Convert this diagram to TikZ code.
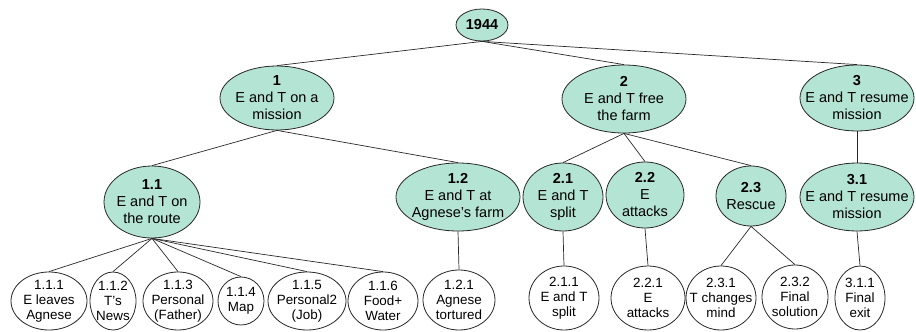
\documentclass[tikz,border=0pt]{standalone}
\usepackage{fontspec}
\setmainfont{Liberation Sans}
\usetikzlibrary{shapes.geometric}
\definecolor{mint}{RGB}{180,228,211}
\definecolor{edgec}{RGB}{40,40,40}
\tikzset{
  base/.style={ellipse, draw=edgec, line width=0.8pt, inner sep=0pt},
  topic/.style={base, fill=mint},
  leaf/.style={base, fill=white},
  ttext/.style={align=center, inner sep=0pt, font=\fontsize{14.5}{17}\selectfont},
  ltext/.style={align=center, inner sep=0pt, font=\fontsize{13.4}{15}\selectfont},
  sz/.style 2 args={minimum width=#1pt, minimum height=#2pt},
  tl/.style={label={[ttext]center:{#1}}},
  ll/.style={label={[ltext]center:{#1}}},
  link/.style={draw=edgec, line width=0.7pt}
}
\begin{document}
\begin{tikzpicture}[x=1pt,y=-1pt]
\useasboundingbox (0,0) rectangle (916,332);
% level 0
\node[topic, sz={52}{32}, tl={\textbf{1944}}] (r) at (482,25) {};
% level 1
\node[topic, sz={114}{64}, tl={\textbf{1}\\E and T on a\\mission}] (n1) at (277,98) {};
\node[topic, sz={124}{68}, tl={\textbf{2}\\E and T free\\the farm}] (n2) at (624,99) {};
\node[topic, sz={114}{66}, tl={\textbf{3}\\E and T resume\\mission}] (n3) at (857,98) {};
% level 2
\node[topic, sz={96}{72}, tl={\textbf{1.1}\\E and T on\\the route}] (n11) at (152,202) {};
\node[topic, sz={124}{68}, tl={\textbf{1.2}\\E and T at\\Agnese's farm}] (n12) at (458,197) {};
\node[topic, sz={80}{68}, tl={\textbf{2.1}\\E and T\\split}] (n21) at (563,197) {};
\node[topic, sz={78}{66}, tl={\textbf{2.2}\\E\\attacks}] (n22) at (645,195) {};
\node[topic, sz={70}{60}, tl={\textbf{2.3}\\Rescue}] (n23) at (751,196) {};
\node[topic, sz={114}{68}, tl={\textbf{3.1}\\E and T resume\\mission}] (n31) at (857,197) {};
% level 3
\node[leaf, sz={76}{58}, ll={1.1.1\\E leaves\\Agnese}] (n111) at (49,301) {};
\node[leaf, sz={46}{58}, ll={1.1.2\\T's\\News}] (n112) at (113,301) {};
\node[leaf, sz={70}{58}, ll={1.1.3\\Personal\\(Father)}] (n113) at (178,301) {};
\node[leaf, sz={46}{48}, ll={1.1.4\\Map}] (n114) at (241,301) {};
\node[leaf, sz={78}{58}, ll={1.1.5\\Personal2\\(Job)}] (n115) at (307,301) {};
\node[leaf, sz={70}{58}, ll={1.1.6\\Food+\\Water}] (n116) at (383,301) {};
\node[leaf, sz={72}{60}, ll={1.2.1\\Agnese\\tortured}] (n121) at (459,300) {};
\node[leaf, sz={70}{64}, ll={2.1.1\\E and T\\split}] (n211) at (564,298) {};
\node[leaf, sz={74}{64}, ll={2.2.1\\E\\attacks}] (n221) at (648,298) {};
\node[leaf, sz={70}{64}, ll={2.3.1\\T changes\\mind}] (n231) at (721,298) {};
\node[leaf, sz={66}{64}, ll={2.3.2\\Final\\solution}] (n232) at (795,297) {};
\node[leaf, sz={50}{64}, ll={3.1.1\\Final\\exit}] (n311) at (860,298) {};
% connectors
\foreach \p/\c in {r/n1, r/n2, r/n3,
  n1/n11, n1/n12, n2/n21, n2/n22, n2/n23, n3/n31,
  n11/n111, n11/n112, n11/n113, n11/n114, n11/n115, n11/n116,
  n12/n121, n21/n211, n22/n221, n23/n231, n23/n232, n31/n311}
  \path[link] (\p.south) -- (\c.north);
\end{tikzpicture}
\end{document}
